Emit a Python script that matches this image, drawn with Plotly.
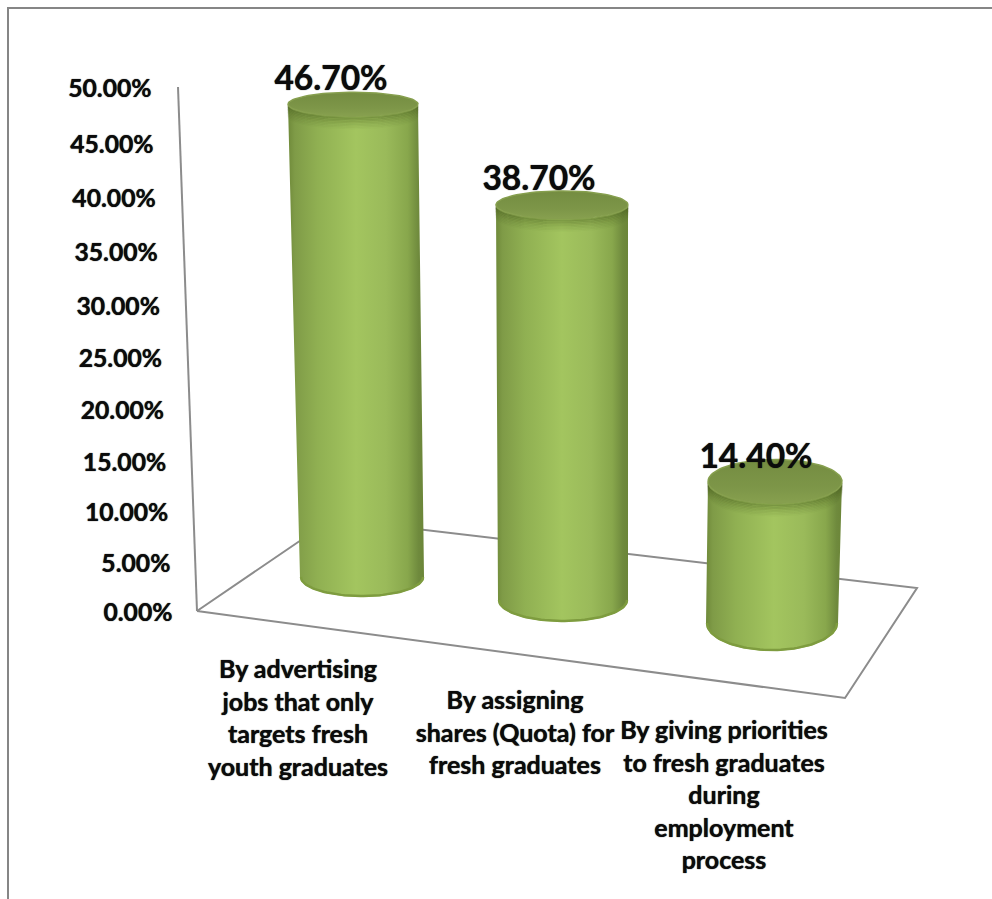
import numpy as np
import plotly.graph_objects as go

# Survey results
categories = [
    "By advertising<br>jobs that only<br>targets fresh<br>youth graduates",
    "By assigning<br>shares (Quota) for<br>fresh graduates",
    "By giving priorities<br>to fresh graduates<br>during<br>employment<br>process",
]
values = [46.7, 38.7, 14.4]
value_labels = ["46.70%", "38.70%", "14.40%"]
tick_values = [0, 5, 10, 15, 20, 25, 30, 35, 40, 45, 50]
tick_labels = ["0.00%", "5.00%", "10.00%", "15.00%", "20.00%", "25.00%",
               "30.00%", "35.00%", "40.00%", "45.00%", "50.00%"]

FONT = "Lato"
AXIS_GREY = "#8c8c8c"


def rise(v):
    """Screen height of a value above the floor, with perspective foreshortening."""
    return 9.859 * v / (1 - 0.001185 * v)


# Projection of each column onto the page: floor centre, ellipse radii and depth scale
base_x = [362, 563, 772]
base_y = [577, 600, 623]
base_rx = [62, 65, 66]
base_ry = [20, 22, 28]
top_rx = [65, 66, 67]
top_ry = [12, 14, 22]
top_x = [353, 562, 775]
depth = [0.97, 0.988, 0.98]
label_x = [298, 515, 724]
label_y = [672, 703, 733]
value_dx = [-22, -23, -19]
value_dy = [-23, -23, -22]

body_stops = [
    [0.0, "#6f8a3a"], [0.05, "#7f9b47"], [0.22, "#90b052"], [0.5, "#a3c55f"],
    [0.72, "#9aba5a"], [0.88, "#88a74c"], [0.96, "#6f8a3d"], [1.0, "#6b8538"],
]

fig = go.Figure()


def polyline(xs, ys, color=AXIS_GREY, width=2):
    fig.add_trace(go.Scatter(x=xs, y=ys, mode="lines", hoverinfo="skip",
                             line=dict(color=color, width=width)))


def text_at(x, y, s, size, anchor="middle center"):
    fig.add_trace(go.Scatter(x=[x], y=[y], mode="text", text=[s], textposition=anchor,
                             hoverinfo="skip", cliponaxis=False,
                             textfont=dict(family=FONT, size=size, color="#0b0b0b", weight=700,
                                           shadow="0 0 1px #0b0b0b")))


# Frame of the chart area
polyline([8, 8, 992], [899, 8, 8], "#868686", 2)

# Value wall edge and floor outline
polyline([197 - 19 * t / 50 for t in (0, 50)],
         [611 - rise(t) for t in (0, 50)])
polyline([197, 845, 917, 332, 197], [611, 698, 588, 519, 611])

# Value axis labels follow the slanted wall edge; right ends trace a line parallel to it
for t, s in zip(tick_values, tick_labels):
    text_at(172.5 - 21 * t / 50, 615 - rise(t), s, 24.7, "middle left")

theta = np.linspace(0, np.pi, 60)
for i, v in enumerate(values):
    cx_b, cy_b, rx_b, ry_b = base_x[i], base_y[i], base_rx[i], base_ry[i]
    cx_t, cy_t, rx_t, ry_t = top_x[i], cy_b - rise(v) * depth[i], top_rx[i], top_ry[i]

    # Cylinder wall: down the left side, round the front of the base, back along the top rim
    xs = np.concatenate([cx_b - rx_b * np.cos(theta), cx_t + rx_t * np.cos(theta)])
    ys = np.concatenate([cy_b + ry_b * np.sin(theta), cy_t + ry_t * np.sin(theta)])
    fig.add_trace(go.Scatter(x=np.append(xs, xs[0]), y=np.append(ys, ys[0]), mode="lines",
                             fill="toself", hoverinfo="skip", line=dict(width=0),
                             fillgradient=dict(type="horizontal", colorscale=body_stops)))

    # Darker lip along the front of the base
    polyline(cx_b - rx_b * 0.985 * np.cos(theta), cy_b + (ry_b - 1) * np.sin(theta), "#7e9c3f", 2.5)

    # Soft shadow cast under the top rim
    for k, alpha in zip(range(1, 9), [0.34, 0.28, 0.23, 0.18, 0.13, 0.09, 0.06, 0.03]):
        polyline(cx_t + rx_t * np.cos(theta), cy_t + ry_t * np.sin(theta) + k * 1.5,
                 f"rgba(70,90,30,{alpha})", 2)

    # Top cap
    phi = np.linspace(0, 2 * np.pi, 90)
    fig.add_trace(go.Scatter(x=cx_t + rx_t * np.cos(phi), y=cy_t + ry_t * np.sin(phi),
                             mode="lines", fill="toself", hoverinfo="skip",
                             line=dict(color="#869f4e", width=1.5),
                             fillgradient=dict(type="vertical", colorscale=[
                                 [0, "#87a04f"], [0.35, "#7d9648"], [1, "#748c41"]])))

    # Value label just above the cap
    text_at(cx_t + value_dx[i], cy_t + value_dy[i], value_labels[i], 33.5)

    # Category label, one centred line at a time
    for j, line in enumerate(categories[i].split("<br>")):
        text_at(label_x[i], label_y[i] + j * 32.5, line, 25)

fig.update_layout(
    width=992, height=899, autosize=False, showlegend=False,
    margin=dict(l=0, r=0, t=0, b=0),
    paper_bgcolor="white", plot_bgcolor="white",
    xaxis=dict(range=[0, 992], visible=False, fixedrange=True),
    yaxis=dict(range=[899, 0], visible=False, fixedrange=True),
)
fig.write_html("out.html", config={"displayModeBar": False})
